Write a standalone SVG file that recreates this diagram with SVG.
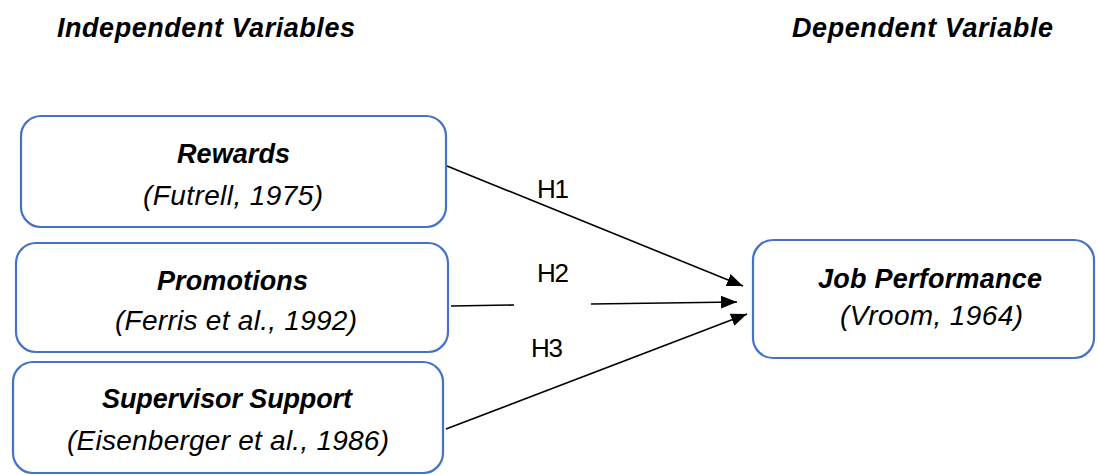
<svg xmlns="http://www.w3.org/2000/svg" width="1097" height="475" viewBox="0 0 1097 475">
<style>
.box{fill:#fff;stroke:#4472C4;stroke-width:2.2}
.t{font-family:"Liberation Sans",Arial,sans-serif;fill:#000}
.b{font-weight:bold;font-style:italic;font-size:27px}
.i{font-style:italic;font-size:28px}
.h{font-size:26px}
.c{stroke:#000;stroke-width:1.6;fill:none}
</style>
<defs>
<marker id="ah2" viewBox="0 0 10 10" refX="10" refY="5" markerWidth="16" markerHeight="16" markerUnits="userSpaceOnUse" orient="auto">
<path d="M0,1 L10,5 L0,9 z" fill="#000"/>
</marker>
</defs>
<g id="headers">
<text class="t b" x="57" y="37" textLength="298">Independent Variables</text>
<text class="t b" x="792" y="37" textLength="261">Dependent Variable</text>
</g>
<g id="connectors">
<line class="c" x1="447" y1="166" x2="743" y2="286" marker-end="url(#ah2)"/>
<line class="c" x1="451" y1="306" x2="514" y2="305"/>
<line class="c" x1="591" y1="304" x2="737" y2="302" marker-end="url(#ah2)"/>
<line class="c" x1="446" y1="429" x2="747" y2="314" marker-end="url(#ah2)"/>
<text class="t h" x="537" y="198" textLength="32">H1</text>
<text class="t h" x="537" y="282" textLength="32">H2</text>
<text class="t h" x="531" y="357" textLength="32">H3</text>
</g>
<g id="rewards">
<rect class="box" x="21" y="116" width="425" height="111" rx="20"/>
<text class="t b" x="177" y="163" textLength="113">Rewards</text>
<text class="t i" x="143" y="205" textLength="180">(Futrell, 1975)</text>
</g>
<g id="promotions">
<rect class="box" x="16" y="243" width="432" height="109" rx="20"/>
<text class="t b" x="157" y="290" textLength="151">Promotions</text>
<text class="t i" x="115" y="330" textLength="242">(Ferris et al., 1992)</text>
</g>
<g id="supervisor">
<rect class="box" x="13" y="362" width="430" height="111" rx="20"/>
<text class="t b" x="102" y="408" textLength="250">Supervisor Support</text>
<text class="t i" x="67" y="450" textLength="322">(Eisenberger et al., 1986)</text>
</g>
<g id="jobperformance">
<rect class="box" x="753" y="240" width="341" height="118" rx="20"/>
<text class="t b" x="818" y="288" textLength="224">Job Performance</text>
<text class="t i" x="840" y="325" textLength="183">(Vroom, 1964)</text>
</g>
</svg>
